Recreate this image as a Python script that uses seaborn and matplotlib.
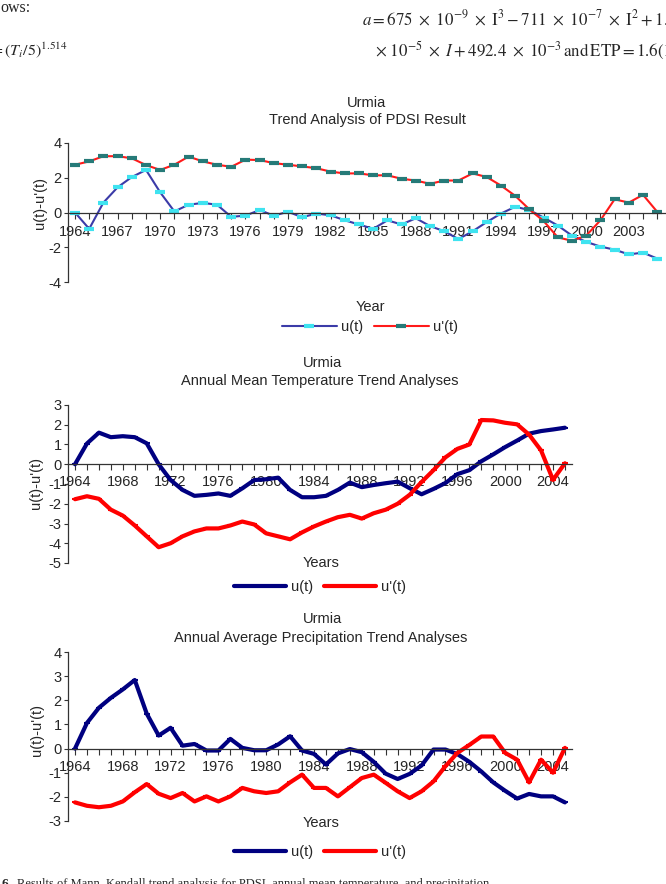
import matplotlib
matplotlib.use("Agg")
import matplotlib.pyplot as plt
import seaborn as sns
import pandas as pd
from matplotlib.ticker import FixedLocator

# ---------------- data ----------------
years = list(range(1964, 2006))

pdsi_u = [0.0, -0.94, 0.57, 1.45, 2.04, 2.45, 1.16, 0.06, 0.45, 0.55, 0.45,
          -0.25, -0.18, 0.14, -0.18, 0.04, -0.27, -0.06, -0.16, -0.45, -0.69,
          -0.94, -0.45, -0.69, -0.33, -0.78, -1.08, -1.53, -1.08, -0.55, -0.06,
          0.33, 0.14, -0.29, -0.75, -1.33, -1.69, -1.96, -2.14, -2.41, -2.31, -2.65]
pdsi_u2 = [2.75, 2.94, 3.24, 3.24, 3.12, 2.73, 2.45, 2.75, 3.22, 2.94, 2.75,
           2.63, 3.04, 3.02, 2.84, 2.75, 2.65, 2.55, 2.35, 2.25, 2.25, 2.14,
           2.14, 1.94, 1.84, 1.65, 1.84, 1.84, 2.25, 2.04, 1.55, 0.96, 0.18,
           -0.49, -1.43, -1.63, -1.33, -0.45, 0.76, 0.57, 1.02, 0.04]

temp_u = [0.0, 1.05, 1.6, 1.37, 1.42, 1.37, 1.06, 0.0, -0.8, -1.3, -1.6,
          -1.55, -1.48, -1.6, -1.22, -0.8, -0.76, -0.68, -1.3, -1.67, -1.67,
          -1.6, -1.3, -0.93, -1.16, -1.05, -0.96, -0.88, -1.21, -1.52, -1.25,
          -0.95, -0.5, -0.3, 0.15, 0.5, 0.87, 1.2, 1.55, 1.68, 1.76, 1.85]
temp_u2 = [-1.77, -1.62, -1.75, -2.3, -2.6, -3.1, -3.65, -4.2, -4.0, -3.65, -3.4,
           -3.25, -3.25, -3.1, -2.9, -3.05, -3.5, -3.65, -3.8, -3.45, -3.15,
           -2.9, -2.68, -2.56, -2.75, -2.48, -2.3, -2.0, -1.55, -0.9, -0.3,
           0.35, 0.78, 1.0, 2.24, 2.22, 2.1, 2.02, 1.5, 0.7, -0.79, 0.05]

prec_u = [0.0, 1.06, 1.69, 2.1, 2.45, 2.84, 1.45, 0.54, 0.86, 0.12, 0.19,
          -0.08, -0.08, 0.4, 0.03, -0.07, -0.07, 0.17, 0.51, -0.08, -0.22,
          -0.66, -0.2, -0.02, -0.15, -0.55, -1.04, -1.26, -1.05, -0.7, -0.04,
          -0.04, -0.23, -0.55, -0.95, -1.4, -1.75, -2.07, -1.88, -1.98, -1.98, -2.23]
prec_u2 = [-2.23, -2.37, -2.43, -2.37, -2.19, -1.81, -1.47, -1.87, -2.05, -1.84, -2.19,
           -1.98, -2.19, -1.98, -1.63, -1.77, -1.84, -1.77, -1.40, -1.08, -1.63,
           -1.63, -1.98, -1.6, -1.22, -1.08, -1.42, -1.77, -2.05, -1.77, -1.36,
           -0.73, -0.18, 0.15, 0.5, 0.5, -0.18, -0.46, -1.4, -0.46, -1.0, 0.03]

pdsi_xticks = list(range(1964, 2004, 3))
other_xticks = list(range(1964, 2005, 4))
pdsi_yticks = [-4, -2, 0, 2, 4]
temp_yticks = [-5, -4, -3, -2, -1, 0, 1, 2, 3]
prec_yticks = [-3, -2, -1, 0, 1, 2, 3, 4]

series_labels = ["u(t)", "u'(t)"]

# ---------------- style ----------------
sns.set_theme(style="ticks")
plt.rcParams["font.family"] = ["Liberation Sans", "DejaVu Sans"]
plt.rcParams["mathtext.fontset"] = "stix"
plt.rcParams["axes.unicode_minus"] = False

W, H = 666, 884
fig = plt.figure(figsize=(W / 100, H / 100), dpi=100)

FS = 10.5
SERIF = ["Liberation Serif", "DejaVu Serif"]


def rect(left, right, top, bottom):
    return [left / W, 1 - bottom / H, (right - left) / W, (bottom - top) / H]


def fx(x):
    return x / W


def fy(y):
    return 1 - y / H


def style_axis(ax, xlim, ylim, xticks, yticks, xpad):
    ax.set_xlim(*xlim)
    ax.set_ylim(*ylim)
    for s in ["top", "right"]:
        ax.spines[s].set_visible(False)
    ax.spines["bottom"].set_position(("data", 0))
    for s in ["left", "bottom"]:
        ax.spines[s].set_linewidth(0.9)
        ax.spines[s].set_color("#333333")
    ax.xaxis.set_major_locator(FixedLocator(xticks))
    ax.xaxis.set_minor_locator(FixedLocator(years))
    ax.yaxis.set_major_locator(FixedLocator(yticks))
    ax.set_xticklabels([str(t) for t in xticks])
    ax.set_yticklabels([str(t) for t in yticks])
    ax.tick_params(axis="x", which="both", direction="out", length=4, width=0.8,
                   color="#333333", labelsize=FS, pad=xpad, bottom=True)
    ax.tick_params(axis="y", which="major", direction="out", length=3, width=0.8,
                   color="#333333", labelsize=FS, pad=1.5, left=True)
    ax.set_xlabel("")
    ax.set_ylabel("")
    ax.patch.set_alpha(0)


# ---------------- chart 1 : PDSI ----------------
ax1 = fig.add_axes(rect(68, 666, 143, 282))
df1 = pd.DataFrame({"year": years, "u": pdsi_u, "u2": pdsi_u2})
sns.lineplot(data=df1, x="year", y="u", ax=ax1, color="#3b3ba8", lw=1.5,
             marker="_", markersize=7.5, markeredgewidth=3.0,
             markeredgecolor="#3fe3f0", label=series_labels[0])
sns.lineplot(data=df1, x="year", y="u2", ax=ax1, color="#ff1a1a", lw=1.5,
             marker="_", markersize=7.5, markeredgewidth=3.0,
             markeredgecolor="#267a78", label=series_labels[1])
style_axis(ax1, (1963.507, 2005.62), (-4, 4), pdsi_xticks, pdsi_yticks, 5)
ax1.legend(loc="center", bbox_to_anchor=(fx(370), fy(327)),
           bbox_transform=fig.transFigure, ncol=2, frameon=False,
           fontsize=FS, handlelength=3.8, handletextpad=0.3,
           columnspacing=0.7, numpoints=1)

fig.text(fx(367), fy(103), "Urmia", ha="center", va="center", fontsize=FS)
fig.text(fx(367), fy(120), "Trend Analysis of PDSI Result", ha="center",
         va="center", fontsize=FS)
fig.text(fx(370), fy(307), "Year", ha="center", va="center", fontsize=FS)
fig.text(fx(40), fy(203), "u(t)-u'(t)", ha="center", va="center",
         rotation=90, fontsize=FS)

# ---------------- chart 2 : temperature ----------------
ax2 = fig.add_axes(rect(68, 572, 405, 563))
df2 = pd.DataFrame({"year": years, "u": temp_u, "u2": temp_u2})
sns.lineplot(data=df2, x="year", y="u", ax=ax2, color="#000080", lw=3.0,
             marker="_", markersize=5, markeredgewidth=1.5,
             markeredgecolor="#000080", label=series_labels[0])
sns.lineplot(data=df2, x="year", y="u2", ax=ax2, color="#ff0000", lw=3.0,
             marker="_", markersize=5, markeredgewidth=1.5,
             markeredgecolor="#ff0000", label=series_labels[1])
style_axis(ax2, (1963.414, 2005.59), (-5, 3), other_xticks, temp_yticks, 4)
ax2.legend(loc="center", bbox_to_anchor=(fx(320), fy(587)),
           bbox_transform=fig.transFigure, ncol=2, frameon=False,
           fontsize=FS, handlelength=3.6, handletextpad=0.35,
           columnspacing=0.7, numpoints=1)

fig.text(fx(322), fy(363), "Urmia", ha="center", va="center", fontsize=FS)
fig.text(fx(320), fy(381), "Annual Mean Temperature Trend Analyses",
         ha="center", va="center", fontsize=FS)
fig.text(fx(321), fy(563), "Years", ha="center", va="center", fontsize=FS)
fig.text(fx(36), fy(483), "u(t)-u'(t)", ha="center", va="center",
         rotation=90, fontsize=FS)

# ---------------- chart 3 : precipitation ----------------
ax3 = fig.add_axes(rect(68, 572, 652, 821))
df3 = pd.DataFrame({"year": years, "u": prec_u, "u2": prec_u2})
sns.lineplot(data=df3, x="year", y="u", ax=ax3, color="#000080", lw=3.0,
             marker="_", markersize=5, markeredgewidth=1.5,
             markeredgecolor="#000080", label=series_labels[0])
sns.lineplot(data=df3, x="year", y="u2", ax=ax3, color="#ff0000", lw=3.0,
             marker="_", markersize=5, markeredgewidth=1.5,
             markeredgecolor="#ff0000", label=series_labels[1])
style_axis(ax3, (1963.414, 2005.59), (-3, 4), other_xticks, prec_yticks, 4)
ax3.legend(loc="center", bbox_to_anchor=(fx(320), fy(852)),
           bbox_transform=fig.transFigure, ncol=2, frameon=False,
           fontsize=FS, handlelength=3.6, handletextpad=0.35,
           columnspacing=0.7, numpoints=1)

fig.text(fx(322), fy(619), "Urmia", ha="center", va="center", fontsize=FS)
fig.text(fx(321), fy(638), "Annual Average Precipitation Trend Analyses",
         ha="center", va="center", fontsize=FS)
fig.text(fx(321), fy(823), "Years", ha="center", va="center", fontsize=FS)
fig.text(fx(37), fy(730), "u(t)-u'(t)", ha="center", va="center",
         rotation=90, fontsize=FS)

# ---------------- surrounding page text ----------------
fig.text(fx(0), fy(8), "ows:", ha="left", va="center", fontsize=11.5, family=SERIF)
fig.text(fx(68), fy(50), r"$= (T_i/5)^{1.514}$", ha="right", va="center",
         fontsize=11.5)
fig.text(fx(362), fy(19),
         r"$a = 675\ \times\ 10^{-9}\ \times\ \mathrm{I}^{3} - 711\ \times\ 10^{-7}\ \times\ \mathrm{I}^{2} + 1.$",
         ha="left", va="center", fontsize=12.2)
fig.text(fx(375), fy(51),
         r"$\times\ 10^{-5}\ \times\ I + 492.4\ \times\ 10^{-3}\,\mathrm{and\,ETP} = 1.6(1$",
         ha="left", va="center", fontsize=12.2)
fig.text(fx(2), fy(887), "6.", ha="left", va="baseline", fontsize=9.5,
         family=SERIF, weight="bold")
fig.text(fx(17), fy(887),
         "Results of Mann\u2013Kendall trend analysis for PDSI, annual mean temperature, and precipitation",
         ha="left", va="baseline", fontsize=9.0, family=SERIF)

fig.savefig("out.png", dpi=100)
